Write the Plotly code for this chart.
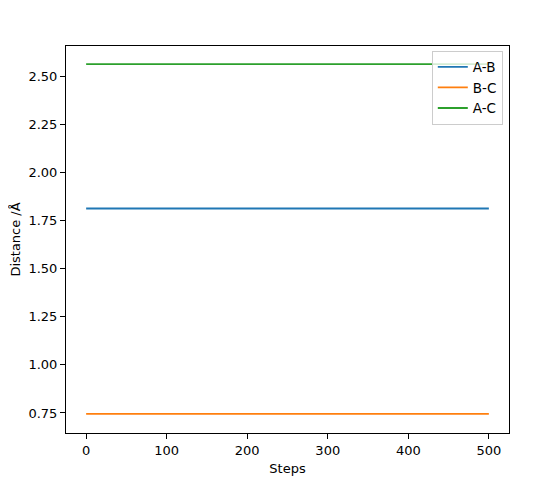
import plotly.graph_objects as go

steps = [0, 100, 200, 300, 400, 500]
ab = [1.812, 1.812, 1.812, 1.812, 1.812, 1.812]
bc = [0.745, 0.745, 0.745, 0.745, 0.745, 0.745]
ac = [2.562, 2.562, 2.562, 2.562, 2.562, 2.562]
names = ["A-B", "B-C", "A-C"]
colors = ["#1f77b4", "#ff7f0e", "#2ca02c"]

fig = go.Figure()
for name, vals, c in zip(names, [ab, bc, ac], colors):
    fig.add_trace(go.Scatter(x=steps, y=vals, mode="lines", name=name,
                             line=dict(color=c, width=1.8)))

axis_common = dict(showline=True, linecolor="black", linewidth=1, mirror=True,
                   ticks="outside", ticklen=5, tickcolor="black", showgrid=False,
                   zeroline=False, automargin=False,
                   tickfont=dict(size=13, color="black"))
fig.update_xaxes(range=[-25, 525], tickvals=[0, 100, 200, 300, 400, 500],
                 title=dict(text="Steps", font=dict(size=13, color="black"), standoff=7),
                 **axis_common)
fig.update_yaxes(range=[0.646, 2.656], tickvals=[0.75, 1.0, 1.25, 1.5, 1.75, 2.0, 2.25, 2.5],
                 tickformat=".2f",
                 title=dict(text="Distance /Å", font=dict(size=13, color="black"), standoff=8),
                 **axis_common)
fig.update_layout(width=539, height=480, margin=dict(l=58, r=38, t=38, b=55),
                  paper_bgcolor="white", plot_bgcolor="white",
                  font=dict(family="DejaVu Sans", size=13, color="black"),
                  legend=dict(x=0.986, y=0.988, xanchor="right", yanchor="top",
                              bgcolor="rgba(255,255,255,0.8)", bordercolor="#cccccc",
                              borderwidth=1, font=dict(size=13.5), tracegroupgap=0,
                              itemwidth=30))
fig.write_html("out.html")
